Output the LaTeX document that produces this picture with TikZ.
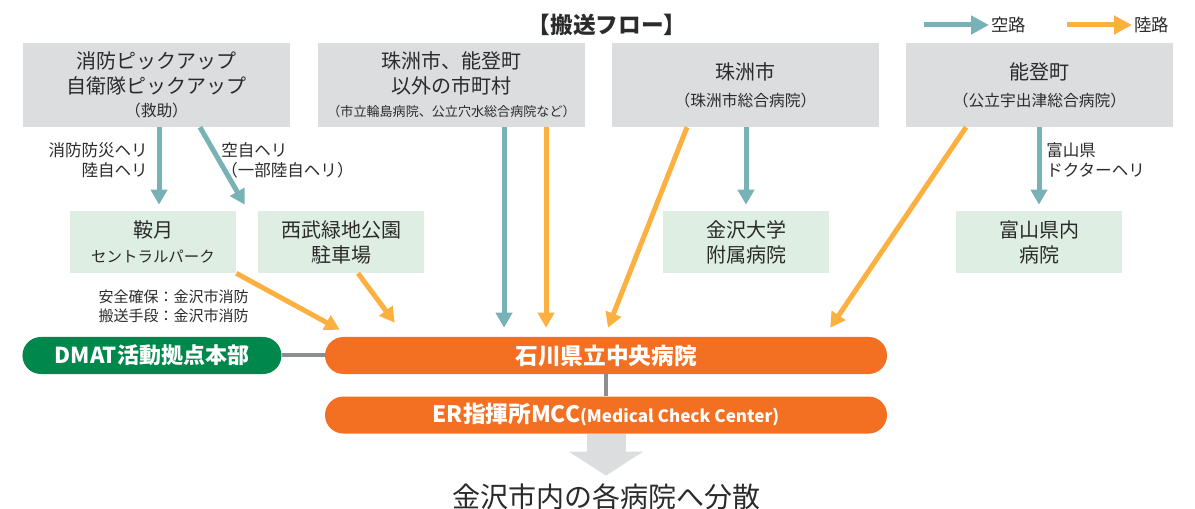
\documentclass[tikz,border=0pt]{standalone}
\usepackage{fontspec}
\setmainfont{Noto Sans CJK JP}
\usetikzlibrary{arrows.meta,positioning}

\definecolor{boxgray}{HTML}{DCDDDE}
\definecolor{boxgreen}{HTML}{DEEEE2}
\definecolor{airteal}{HTML}{77B2B6}
\definecolor{landorange}{HTML}{FBB040}
\definecolor{pillorange}{HTML}{F37022}
\definecolor{dmatgreen}{HTML}{00874B}
\definecolor{linkgray}{HTML}{8D8E90}
\definecolor{txt}{HTML}{2B2B2B}

\newcommand\subtxt{\fontsize{11.8}{14}\selectfont}

\begin{document}
\begin{tikzpicture}[x=0.75pt,y=-0.75pt,>={Triangle[width=12pt,length=11.25pt]},
  srcbox/.style={fill=boxgray,minimum width=200.25pt,minimum height=63pt,inner sep=0pt,align=center,text=txt,font=\fontsize{15}{18.75}\selectfont},
  dstbox/.style={fill=boxgreen,minimum width=124.5pt,minimum height=46.5pt,inner sep=0pt,align=center,text=txt,font=\fontsize{15}{18.75}\selectfont},
  pill/.style={rounded corners=13.8pt,minimum height=27.75pt,inner sep=0pt,text=white,font=\bfseries\fontsize{17}{20}\selectfont},
  air/.style={->,line width=3.75pt,draw=airteal},
  land/.style={->,line width=3.75pt,draw=landorange},
  link/.style={line width=3pt,draw=linkgray},
  note/.style={inner sep=0pt,text=txt,font=\fontsize{12.4}{15}\selectfont},
  key/.style={shorten >=1.5pt,>={Triangle[width=13.5pt,length=13.5pt]}}]
  \useasboundingbox (0,0) rectangle (1195,509);

  % Title and legend
  \node[inner sep=0pt,text=txt,font=\bfseries\fontsize{17}{20}\selectfont] (title) at (607,25) {【搬送フロー】};
  \node[note,anchor=west,font=\fontsize{13}{15}\selectfont] (airkey) at (991,25) {空路};
  \node[note,anchor=west,font=\fontsize{13}{15}\selectfont] (landkey) at (1134,25) {陸路};
  \draw[air,key] ([xshift=-50.25pt]airkey.west) -- (airkey.west);
  \draw[land,key] ([xshift=-50.25pt]landkey.west) -- (landkey.west);

  % Where patients come from
  \node[srcbox] (pickup) at (156.5,85) {消防ピックアップ\\自衛隊ピックアップ\\[-1.5pt]{\subtxt（救助）}};
  \node[srcbox] (others) at (451.5,85) {珠洲市、能登町\\以外の市町村\\[-1.5pt]{\fontsize{9.8}{12}\selectfont（市立輪島病院、公立穴水総合病院など）}};
  \node[srcbox] (suzu) at (745.5,85) {珠洲市\\[1.5pt]{\subtxt（珠洲市総合病院）}};
  \node[srcbox] (noto) at (1039.5,85) {能登町\\[1.5pt]{\subtxt（公立宇出津総合病院）}};

  % Landing sites and other hospitals
  \node[dstbox] (kura) at (153,242) {鞍月\\{\fontsize{11.6}{14}\selectfont セントラルパーク}};
  \node[dstbox] (seibu) at (341,242) {西武緑地公園\\駐車場};
  \node[dstbox] (kandai) at (746,242) {金沢大学\\附属病院};
  \node[dstbox] (toyama) at (1039,242) {富山県内\\病院};

  % Hospitals in Kanazawa
  \node[pill,fill=pillorange,minimum width=421.5pt] (chuo) at (606,355.5) {石川県立中央病院};
  \node[pill,fill=dmatgreen,minimum width=194.25pt,font=\bfseries\fontsize{16.5}{20}\selectfont] (dmat) [left=32.25pt of chuo] {DMAT活動拠点本部};
  \node[pill,fill=pillorange,minimum width=421.5pt,font=\bfseries\fontsize{17}{20}\selectfont] (mcc) [below=16.5pt of chuo] {ER指揮所MCC{\fontsize{12.8}{14}\selectfont(Medical Check Center)}};
  \node[note,font=\fontsize{21}{24}\selectfont] (dest) at (606,497) {金沢市内の各病院へ分散};

  % Labels on the flights
  \node[note,anchor=east,align=right] (firelabel) at (148,160) {消防防災ヘリ\\陸自ヘリ};
  \node[note,anchor=west,align=left] (sdflabel) at (221,160) {空自ヘリ\\（一部陸自ヘリ）};
  \node[note,anchor=west,align=left] (doctorlabel) at (1046,160) {富山県\\ドクターヘリ};
  \node[note,align=center,font=\fontsize{11.25}{14.25}\selectfont] (safelabel) at (173.5,306.5) {安全確保：金沢市消防\\搬送手段：金沢市消防};

  % Exit points on the box edges
  \coordinate (pickup1) at ([xshift=1.9pt]pickup.south);
  \coordinate (others1) at ([xshift=39.4pt]others.south);
  \coordinate (others2) at ([xshift=70.9pt]others.south);

  % Air routes
  \draw[air,shorten >=4.5pt] (pickup1) -- (pickup1 |- kura.north);
  \draw[air] ([xshift=32.6pt]pickup.south) -- ([xshift=-9.75pt,yshift=4.5pt]seibu.north west);
  \draw[air,shorten >=6.75pt] (others1) -- (others1 |- chuo.north);
  \draw[air,shorten >=4.5pt] (kandai.north |- suzu.south) -- (kandai.north);
  \draw[air,shorten >=4.5pt] (toyama.north |- noto.south) -- (toyama.north);

  % Land routes
  \draw[land,shorten >=6.75pt] (others2) -- (others2 |- chuo.north);
  \draw[land] ([xshift=-43.9pt]suzu.south) -- ([xshift=1.5pt,yshift=6.75pt]chuo.north);
  \draw[land] ([xshift=-55.1pt]noto.south) -- ([xshift=-42.75pt,yshift=6.75pt]chuo.north east);
  \draw[land] (kura.south east) -- ([xshift=11.25pt,yshift=5.25pt]chuo.north west);
  \draw[land] ([xshift=12.75pt]seibu.south) -- ([xshift=52.5pt,yshift=10.5pt]chuo.north west);

  % Links between the hospitals
  \draw[link] (dmat) -- (chuo);
  \draw[link] (chuo) -- (mcc);
  \draw[-{Triangle[width=54.75pt,length=18pt]},line width=29.25pt,draw=boxgray,shorten >=6pt] (mcc.south) -- (dest.north);
\end{tikzpicture}
\end{document}
